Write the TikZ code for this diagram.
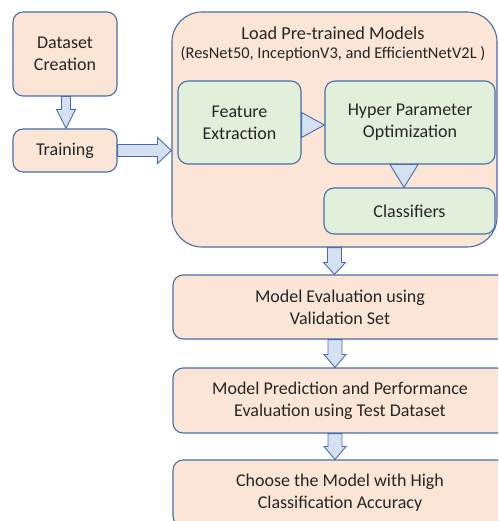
\documentclass[tikz,border=0pt]{standalone}
\usepackage{fontspec}
\setmainfont{Carlito}
\usetikzlibrary{calc}
\definecolor{peach}{RGB}{251,229,214}
\definecolor{mint}{RGB}{226,239,218}
\definecolor{edge}{RGB}{72,110,170}
\definecolor{blkfill}{RGB}{214,224,243}
\definecolor{ink}{RGB}{38,38,38}
\tikzset{
  box/.style={draw=edge, line width=1.1pt, fill=peach, rounded corners=10pt, inner sep=0pt, align=center, text=ink, font=\fontsize{18}{22}\selectfont},
  gbox/.style={box, fill=mint},
  bigbox/.style={draw=edge, line width=1.1pt, fill=peach, rounded corners=30pt, inner sep=0pt},
  blk/.style={draw=edge, line width=0.9pt, fill=blkfill, line join=miter},
  lbl/.style={text=ink, inner sep=0pt, align=center}
}
\newcommand\blockdown[6]{% from, to, shaft half, head half, head len, xshift
  \filldraw[blk] let \p1=(#1), \p2=(#2) in
    (\x1+#6-#3,\y1) -- (\x1+#6-#3,\y2+#5) -- (\x1+#6-#4,\y2+#5) -- (\x1+#6,\y2)
    -- (\x1+#6+#4,\y2+#5) -- (\x1+#6+#3,\y2+#5) -- (\x1+#6+#3,\y1) -- cycle;}
\begin{document}
\begin{tikzpicture}[x=1pt,y=-1pt]
\useasboundingbox (0,0) rectangle (498,521);
\clip (0,0) rectangle (498,521);
% left column
\node[box, minimum width=104pt, minimum height=84pt] (ds) at (65,54) {Dataset\\Creation};
\node[box, minimum width=104pt, minimum height=43pt] (tr) at (65,150.5) {Training};
% big box
\node[bigbox, minimum width=325pt, minimum height=235pt] (big) at (334.5,129.5) {};
\node[lbl, font=\fontsize{18.3}{22}\selectfont] (title) at (333,33) {Load Pre-trained Models};
\node[lbl, font=\fontsize{16.4}{19}\selectfont] (sub) at (333,54) {(ResNet50, InceptionV3, and EfficientNetV2L )};
\node[gbox, minimum width=123pt, minimum height=83pt] (fe) at (239.5,122.5) {Feature\\Extraction};
\node[gbox, minimum width=170pt, minimum height=83pt] (hpo) at (410,122.5) {Hyper Parameter\\Optimization};
\node[gbox, minimum width=171pt, minimum height=46pt] (cls) at (409.5,211) {Classifiers};
% lower column
\node[box, minimum width=334pt, minimum height=64pt] (me) at (340,307) {Model Evaluation using\\Validation Set};
\node[box, minimum width=334pt, minimum height=65pt] (mp) at (340,400.5) {Model Prediction and Performance\\Evaluation using Test Dataset};
\node[box, minimum width=334pt, minimum height=66pt] (ch) at (340,493) {Choose the Model with High\\Classification Accuracy};
% block arrows
\blockdown{ds.south}{tr.north}{4.5pt}{9.5pt}{19pt}{1pt}
\blockdown{big.south}{me.north}{7pt}{11pt}{12pt}{0pt}
\blockdown{me.south}{mp.north}{7pt}{11pt}{13pt}{-5pt}
\blockdown{mp.south}{ch.north}{7pt}{11pt}{13pt}{-5pt}
% training -> big box
\filldraw[blk] let \p1=(tr.east), \p2=(big.west) in
  (\x1,\y1+6pt) -- (\x2-14pt,\y1+6pt) -- (\x2-14pt,\y1+13pt) -- (\x2,\y1)
  -- (\x2-14pt,\y1-13pt) -- (\x2-14pt,\y1-6pt) -- (\x1,\y1-6pt) -- cycle;
% triangles
\filldraw[blk] let \p1=(fe.east), \p2=(hpo.west) in
  (\x1,\y1+10pt) -- (\x2,\y1-2.5pt) -- (\x1,\y1-15pt) -- cycle;
\filldraw[blk] let \p1=(hpo.south), \p2=(cls.north) in
  (\x1-20pt,\y1) -- (\x1-6pt,\y2) -- (\x1+8pt,\y1) -- cycle;
\end{tikzpicture}
\end{document}
